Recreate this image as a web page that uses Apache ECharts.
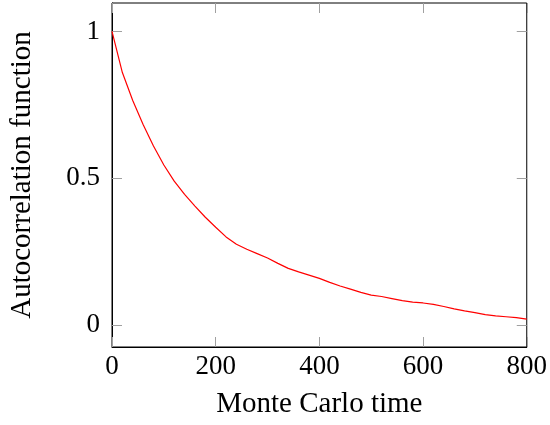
<!DOCTYPE html>
<html>
<head>
<meta charset="utf-8">
<script src="https://cdn.jsdelivr.net/npm/echarts@6/dist/echarts.min.js"></script>
<style>
html,body{margin:0;padding:0;background:#fff;}
#chart{width:550px;height:425px;}
</style>
</head>
<body>
<div id="chart"></div>
<script>
const mcTime = [0,20,40,60,80,100,120,140,160,180,200,220,240,260,280,300,320,340,360,380,400,420,440,460,480,500,520,540,560,580,600,620,640,660,680,700,720,740,760,780,800];
const acf = [1.0,0.86,0.765,0.683,0.61,0.545,0.49,0.445,0.405,0.367,0.333,0.300,0.275,0.258,0.243,0.228,0.210,0.193,0.181,0.170,0.159,0.145,0.133,0.122,0.111,0.102,0.097,0.090,0.083,0.078,0.075,0.070,0.063,0.055,0.048,0.042,0.035,0.031,0.028,0.025,0.020];
const xTicks = [0,200,400,600,800];
const yTicks = [0,0.5,1];
const xName = 'Monte Carlo time';
const yName = 'Autocorrelation function';

const font = 'Liberation Serif';
const tickColor = '#a0a0a0';
const chart = echarts.init(document.getElementById('chart'));
const xBase = {type:'value', min:0, max:800, interval:200};
const yBase = {type:'value', min:-0.075, max:1.097};
const tick = (vals)=>({show:true, inside:true, length:10, lineStyle:{color:tickColor, width:1}, customValues:vals});
chart.setOption({
  animation:false,
  grid:{left:112, right:23, top:3, bottom:78, show:true, borderColor:'#000', borderWidth:1, backgroundColor:'transparent'},
  xAxis:[
    Object.assign({}, xBase, {
      position:'bottom',
      name:xName, nameLocation:'middle', nameGap:43,
      nameTextStyle:{fontFamily:font, fontSize:29, color:'#000'},
      axisLine:{show:true, onZero:false, lineStyle:{color:'#000', width:1}},
      axisTick:tick(xTicks),
      axisLabel:{show:true, margin:6, fontFamily:font, fontSize:27, color:'#000', customValues:xTicks},
      splitLine:{show:false}
    }),
    Object.assign({}, xBase, {
      position:'top',
      axisLine:{show:false, onZero:false},
      axisTick:tick(xTicks),
      axisLabel:{show:false},
      splitLine:{show:false}
    })
  ],
  yAxis:[
    Object.assign({}, yBase, {
      position:'left',
      name:yName, nameLocation:'middle', nameGap:75, nameRotate:90,
      nameTextStyle:{fontFamily:font, fontSize:29, color:'#000'},
      axisLine:{show:true, onZero:false, lineStyle:{color:'#000', width:1}},
      axisTick:tick(yTicks),
      axisLabel:{show:true, margin:12, fontFamily:font, fontSize:27, color:'#000', customValues:yTicks,
        formatter:function(v){return String(v);}},
      splitLine:{show:false}
    }),
    Object.assign({}, yBase, {
      position:'right',
      axisLine:{show:false, onZero:false},
      axisTick:tick(yTicks),
      axisLabel:{show:false},
      splitLine:{show:false}
    })
  ],
  series:[{
    type:'line',
    xAxisIndex:0, yAxisIndex:0,
    data: mcTime.map((t,i)=>[t, acf[i]]),
    showSymbol:false, symbol:'none',
    lineStyle:{color:'#ff0000', width:1.2},
    smooth:false
  }]
});
</script>
</body>
</html>
